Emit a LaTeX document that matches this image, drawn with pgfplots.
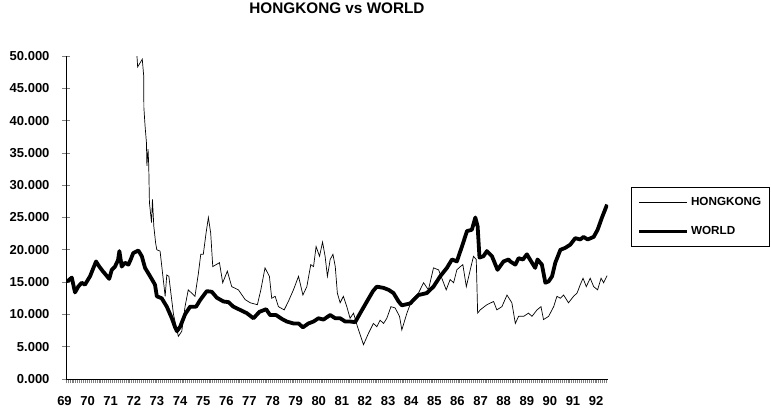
\documentclass[border=0pt]{standalone}
\usepackage{fontspec}
\setmainfont{Liberation Sans}
\usepackage{pgfplots}
\pgfplotsset{compat=1.18}
\begin{document}
\begin{tikzpicture}[x=1pt,y=1pt]
\path[use as bounding box] (0,0) rectangle (771,410);
\begin{axis}[
  at={(66pt,31pt)}, anchor=south west,
  scale only axis, width=542pt, height=323pt,
  xmin=1969, xmax=1992.45, ymin=0, ymax=50,
  axis x line*=bottom, axis y line*=left,
  axis line style={line width=0.8pt, -},
  xtick={1969,1970,1971,1972,1973,1974,1975,1976,1977,1978,1979,1980,1981,1982,1983,1984,1985,1986,1987,1988,1989,1990,1991,1992},
  xticklabels={69,70,71,72,73,74,75,76,77,78,79,80,81,82,83,84,85,86,87,88,89,90,91,92},
  minor xtick={1969,1969.08333,...,1992.45},
  ytick={0,5,10,15,20,25,30,35,40,45,50},
  tick align=center,
  major tick length=8pt, minor tick length=4pt,
  every major x tick/.append style={draw=none},
  every minor x tick/.append style={yshift=-2pt, line width=0.5pt},
  every major y tick/.append style={line width=0.8pt},
  tick label style={font=\bfseries\fontsize{13}{15}\selectfont},
  /pgf/number format/assume math mode=true,
  yticklabel style={/pgf/number format/fixed, /pgf/number format/fixed zerofill, /pgf/number format/precision=3, /pgf/number format/1000 sep={}, xshift=-9pt},
  xticklabel style={yshift=-10pt, xshift=-1.5pt},
  title={HONGKONG vs WORLD},
  title style={font=\bfseries\fontsize{15.3}{18}\selectfont, at={(0.5,1)}, anchor=center, yshift=42pt},
  legend style={at={(1.0424,0.595)}, anchor=north west, draw=black, line width=0.5pt,
    font=\bfseries\fontsize{11.7}{13}\selectfont, inner xsep=6pt, inner ysep=8pt, row sep=16pt,
    cells={anchor=west}},
  legend image code/.code={\draw[#1] (0pt,0pt) -- (44pt,0pt); \path (0pt,0pt) -- (48pt,0pt);},
  clip=true,
]
\addplot[black, line width=0.7pt] coordinates {
(1972.06,50.6)(1972.10,48.3)(1972.30,49.5)(1972.36,47.0)(1972.37,42.0)(1972.42,39.2)(1972.48,36.6)(1972.50,33.0)(1972.55,35.6)(1972.58,33.0)(1972.61,27.3)(1972.70,24.2)(1972.74,27.8)(1972.80,23.6)(1972.88,21.0)(1972.93,20.0)(1973.07,19.8)(1973.29,12.8)(1973.36,16.1)(1973.45,15.9)(1973.65,10.0)(1973.86,6.6)(1974.01,7.4)(1974.15,11.2)(1974.29,13.8)(1974.58,12.8)(1974.73,16.4)(1974.83,19.3)(1974.94,19.3)(1975.06,22.6)(1975.16,25.0)(1975.26,22.6)(1975.35,17.4)(1975.49,17.7)(1975.64,18.0)(1975.78,14.9)(1975.98,16.7)(1976.17,14.3)(1976.46,13.8)(1976.75,12.3)(1976.97,11.8)(1977.28,11.5)(1977.43,13.8)(1977.61,17.2)(1977.80,15.9)(1977.90,12.5)(1978.05,12.8)(1978.19,11.2)(1978.44,10.7)(1978.62,12.0)(1978.84,13.8)(1979.06,15.9)(1979.25,13.0)(1979.42,14.3)(1979.59,17.7)(1979.71,17.4)(1979.82,20.5)(1979.97,19.0)(1980.10,21.2)(1980.21,19.0)(1980.31,15.9)(1980.43,18.5)(1980.55,19.3)(1980.65,17.4)(1980.74,13.3)(1980.86,11.8)(1981.00,12.8)(1981.15,11.2)(1981.29,9.4)(1981.44,10.2)(1981.61,8.1)(1981.87,5.3)(1982.09,7.1)(1982.30,8.6)(1982.45,8.1)(1982.59,9.1)(1982.74,8.6)(1982.88,9.4)(1983.06,11.2)(1983.24,11.0)(1983.43,9.7)(1983.53,7.6)(1983.75,10.2)(1983.97,12.3)(1984.25,13.3)(1984.47,14.9)(1984.68,13.8)(1984.90,17.2)(1985.12,16.9)(1985.26,15.6)(1985.45,13.8)(1985.62,15.4)(1985.77,14.9)(1985.91,16.9)(1986.06,17.4)(1986.17,17.7)(1986.32,14.3)(1986.49,16.9)(1986.63,19.0)(1986.75,18.5)(1986.81,10.2)(1986.92,10.7)(1987.21,11.5)(1987.50,12.0)(1987.64,10.7)(1987.86,11.2)(1988.08,13.0)(1988.29,11.8)(1988.44,8.6)(1988.58,9.7)(1988.80,9.7)(1989.01,10.2)(1989.16,9.7)(1989.38,10.7)(1989.55,11.2)(1989.66,9.2)(1989.88,9.7)(1990.10,11.2)(1990.24,12.8)(1990.39,12.5)(1990.53,13.0)(1990.74,11.8)(1990.96,12.8)(1991.11,13.3)(1991.25,14.6)(1991.37,15.6)(1991.51,14.3)(1991.68,15.6)(1991.83,14.3)(1992.00,13.8)(1992.15,15.6)(1992.26,14.9)(1992.41,16.0)
};
\addlegendentry{HONGKONG}
\addplot[black, line width=3.8pt, line join=round] coordinates {
(1969.00,15.1)(1969.12,15.3)(1969.25,15.7)(1969.39,13.4)(1969.53,14.3)(1969.68,14.9)(1969.82,14.6)(1970.04,15.9)(1970.30,18.2)(1970.44,17.4)(1970.59,16.7)(1970.73,16.1)(1970.87,15.5)(1970.98,16.9)(1971.12,17.4)(1971.25,18.4)(1971.31,19.8)(1971.41,17.4)(1971.55,18.0)(1971.70,17.7)(1971.80,18.5)(1971.91,19.5)(1972.13,19.9)(1972.28,19.0)(1972.42,17.2)(1972.64,15.9)(1972.85,14.6)(1972.93,12.8)(1973.14,12.5)(1973.36,11.2)(1973.58,9.4)(1973.72,8.0)(1973.80,7.4)(1973.94,8.1)(1974.15,10.0)(1974.37,11.2)(1974.63,11.2)(1974.80,12.2)(1975.09,13.6)(1975.31,13.5)(1975.52,12.6)(1975.81,12.0)(1976.03,11.9)(1976.24,11.2)(1976.53,10.7)(1976.82,10.2)(1977.11,9.4)(1977.37,10.4)(1977.66,10.8)(1977.83,9.9)(1978.09,9.9)(1978.34,9.3)(1978.55,8.9)(1978.84,8.6)(1979.06,8.6)(1979.25,8.0)(1979.49,8.6)(1979.71,8.9)(1979.92,9.4)(1980.14,9.2)(1980.43,9.9)(1980.65,9.4)(1980.86,9.4)(1981.08,8.9)(1981.29,8.9)(1981.51,8.8)(1981.73,10.2)(1982.02,12.0)(1982.28,13.6)(1982.45,14.3)(1982.74,14.1)(1982.96,13.8)(1983.17,13.3)(1983.39,12.0)(1983.53,11.4)(1983.89,11.7)(1984.25,13.0)(1984.61,13.3)(1984.90,14.3)(1985.19,15.9)(1985.48,17.2)(1985.70,18.5)(1985.91,18.2)(1986.13,20.5)(1986.35,22.9)(1986.56,23.1)(1986.71,25.0)(1986.81,23.6)(1986.89,18.8)(1987.06,19.0)(1987.21,19.8)(1987.43,19.0)(1987.67,16.9)(1987.93,18.2)(1988.15,18.5)(1988.22,18.2)(1988.44,17.7)(1988.58,18.7)(1988.77,18.5)(1988.94,19.3)(1989.16,18.0)(1989.30,17.2)(1989.40,18.5)(1989.59,17.7)(1989.74,14.9)(1989.88,15.1)(1990.03,15.9)(1990.17,18.0)(1990.39,20.0)(1990.60,20.3)(1990.82,20.8)(1991.03,21.8)(1991.25,21.6)(1991.39,22.0)(1991.57,21.6)(1991.83,22.0)(1992.00,23.1)(1992.19,25.0)(1992.41,27.0)
};
\addlegendentry{WORLD}
\end{axis}
\end{tikzpicture}
\end{document}
